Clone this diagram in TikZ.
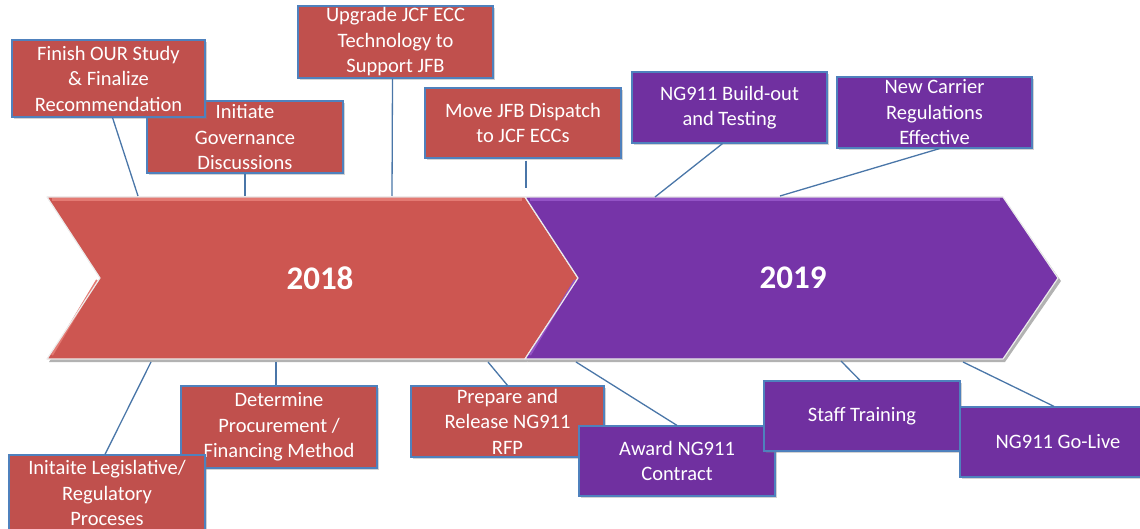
\documentclass[tikz,border=0pt]{standalone}
\usepackage{fontspec}
\setmainfont{Carlito}
\usetikzlibrary{shadows}
\definecolor{boxred}{HTML}{C0504D}
\definecolor{boxpurple}{HTML}{7030A0}
\definecolor{arrred}{HTML}{CD5651}
\definecolor{arrredhi}{HTML}{E47A73}
\definecolor{arrpurple}{HTML}{7634A8}
\definecolor{arrpurplehi}{HTML}{9352C6}
\definecolor{edgeblue}{HTML}{4F81BD}
\definecolor{linkblue}{HTML}{4A76A8}
\tikzset{
  milestone/.style={draw=edgeblue, line width=1.2pt, text=white,
    font=\fontsize{20.5}{25.5}\selectfont, align=center, inner sep=0pt,
    minimum width=195pt, minimum height=71pt,
    drop shadow={shadow xshift=2pt, shadow yshift=-2pt, opacity=0.35, fill=gray}},
  redbox/.style={milestone, fill=boxred},
  purplebox/.style={milestone, fill=boxpurple},
  link/.style={draw=linkblue, line width=1.3pt},
  yearlabel/.style={text=white, font=\bfseries\fontsize{33}{36}\selectfont},
  rim/.style={white!85!gray, line width=1.2pt, line join=round}
}
\begin{document}
\begin{tikzpicture}[x=1pt,y=-1pt]
\useasboundingbox (0,0) rectangle (1140,529);
\clip (0,0) rectangle (1140,529);

% connector end points on the chevron edges
\coordinate (t1) at (138,196);
\coordinate (t2) at (245,196);
\coordinate (t3) at (392,196);
\coordinate (t4) at (526,188);
\coordinate (t5) at (655,197);
\coordinate (t6) at (780,196);
\coordinate (b8) at (151,362);
\coordinate (b7) at (276,362);
\coordinate (b9) at (488,362);
\coordinate (b10) at (576,362);
\coordinate (b11) at (841,361);
\coordinate (b12) at (963,362);

% chevron shadows
\fill[gray!60] (49,200) -- (527,200) -- (581,281) -- (527,362) -- (49,362) -- (102,281) -- cycle;
\fill[gray!60] (527,200) -- (1005,200) -- (1061,281) -- (1005,362) -- (527,362) -- (581,281) -- cycle;

% 2018 chevron
\fill[arrred]
  (47,197) -- (525,197) -- (578,278) -- (525,359) -- (47,359) -- (100,278) -- cycle;
\draw[arrredhi, line width=3pt] (52,200) -- (522,200);
\draw[arrredhi, line width=2pt] (52,355) -- (97,280);
\draw[rim] (47,197) -- (525,197) -- (578,278) -- (525,359) -- (47,359) -- (100,278) -- cycle;
% 2019 chevron
\fill[arrpurple]
  (525,197) -- (1003,197) -- (1058,278) -- (1003,359) -- (525,359) -- (578,278) -- cycle;
\draw[arrpurplehi, line width=3pt] (530,200) -- (1000,200);
\draw[arrpurplehi, line width=2pt] (530,355) -- (575,280);
\draw[rim] (525,197) -- (1003,197) -- (1058,278) -- (1003,359) -- (525,359) -- (578,278) -- cycle;

\node[yearlabel] (y18) at (320,278) {2018};
\node[yearlabel] (y19) at (793,278) {2019};

% upper milestones
\node[redbox, minimum width=196pt, minimum height=72pt] (m2) at (245,137)
  {Initiate\\Governance\\Discussions};
\node[redbox, minimum width=193pt, minimum height=77pt] (m1) at (108.5,78.5)
  {Finish OUR Study\\\& Finalize\\Recommendation};
\node[redbox, minimum width=195pt, minimum height=72pt] (m3) at (395.5,42)
  {Upgrade JCF ECC\\Technology to\\Support JFB};
\node[redbox, minimum width=196pt, minimum height=70pt] (m4) at (523,123)
  {Move JFB Dispatch\\to JCF ECCs};
\node[purplebox, minimum width=195pt, minimum height=71pt] (m5) at (729.5,107.5)
  {NG911 Build-out\\and Testing};
\node[purplebox, minimum width=195pt, minimum height=71pt] (m6) at (934.5,112.5)
  {New Carrier\\Regulations\\Effective};

% lower milestones
\node[redbox, minimum width=196pt, minimum height=82pt] (m7) at (279,427)
  {Determine\\Procurement /\\Financing Method};
\node[redbox, minimum width=196pt, minimum height=76pt] (m8) at (107,493)
  {Initaite Legislative/\\Regulatory\\Proceses};
\node[redbox, minimum width=193pt, minimum height=71pt] (m9) at (507.5,421.5)
  {Prepare and\\Release NG911\\RFP};
\node[purplebox, minimum width=196pt, minimum height=70pt] (m10) at (677,461)
  {Award NG911\\Contract};
\node[purplebox, minimum width=196pt, minimum height=70pt] (m11) at (862,416)
  {Staff Training};
\node[purplebox, minimum width=196pt, minimum height=70pt] (m12) at (1058,442)
  {NG911 Go-Live};

% connectors
\draw[link] ([xshift=4pt]m1.south) -- (t1);
\draw[link] (m2.south) -- (t2);
\draw[link] ([xshift=-3pt]m3.south) -- (t3);
\draw[link] ([xshift=3pt,yshift=-2pt]m4.south) -- (t4);
\draw[link] ([xshift=-7pt]m5.south) -- (t5);
\draw[link] ([xshift=5pt]m6.south) -- (t6);
\draw[link] (b8) -- ([xshift=-2pt]m8.north);
\draw[link] (b7) -- ([xshift=-3pt]m7.north);
\draw[link] (b9) -- (m9.north);
\draw[link] (b10) -- (m10.north);
\draw[link] (b11) -- ([xshift=-2pt]m11.north);
\draw[link] (b12) -- ([xshift=-4pt]m12.north);
\end{tikzpicture}
\end{document}
